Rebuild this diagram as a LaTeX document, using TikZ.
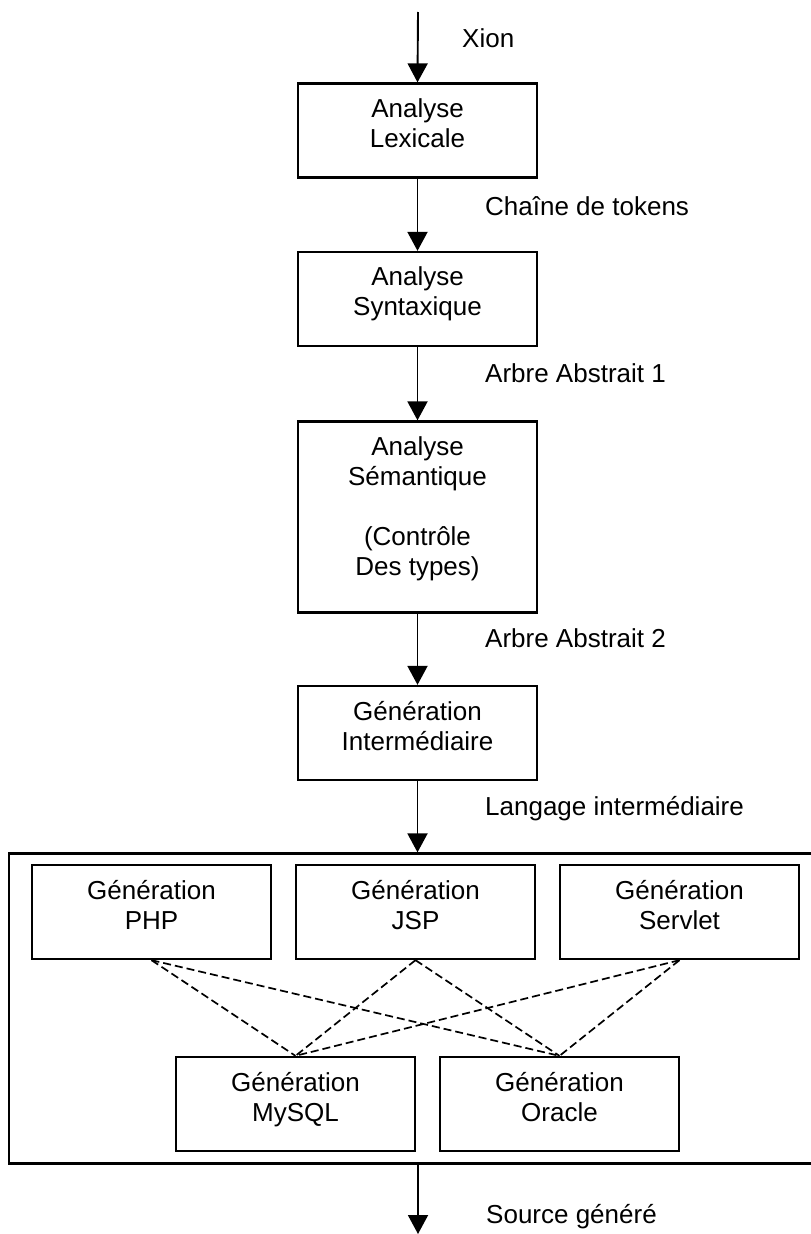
\documentclass[tikz,border=0pt]{standalone}
\usepackage{fontspec}
\setmainfont{Liberation Sans}
\usetikzlibrary{arrows.meta,calc}
\begin{document}
\begin{tikzpicture}[x=1pt,y=-1pt,
  stage/.style={draw, line width=2.3pt, minimum width=239pt, minimum height=94pt, inner sep=0pt},
  gen/.style={stage},
  frame/.style={draw, line width=2.3pt, inner sep=0pt},
  boxtext/.style={align=center, inner sep=0pt, anchor=north, font=\fontsize{26}{30}\selectfont},
  lbl/.style={anchor=base west, inner sep=0pt, font=\fontsize{26}{30}\selectfont},
  flow/.style={line width=1.9pt, -{Triangle[width=20pt,length=19pt]}},
  link/.style={line width=1.7pt, dash pattern=on 8pt off 4pt}]

\useasboundingbox (0,0) rectangle (811,1234);
\clip (0,0) rectangle (811,1234);

% main pipeline
\node[stage] (lex) at (417.5,130.5) {};
\node[stage] (syn) at (417.5,299) {};
\node[stage, minimum height=191pt] (sem) at (417.5,517) {};
\node[stage] (inter) at (417.5,733) {};

\node[boxtext] (lext) at ($(lex.north)+(0,16)$) {Analyse\\Lexicale};
\node[boxtext] (synt) at ($(syn.north)+(0,16)$) {Analyse\\Syntaxique};
\node[boxtext] (semt) at ($(sem.north)+(0,16)$) {Analyse\\Sémantique\\[30pt](Contrôle\\Des types)};
\node[boxtext] (intert) at ($(inter.north)+(0,16)$) {Génération\\Intermédiaire};

% back-end generators
\node[frame, minimum width=806pt, minimum height=310pt] (back) at (412,1008.5) {};
\node[gen] (php) at (151.5,912) {};
\node[gen] (jsp) at (415.5,912) {};
\node[gen] (servlet) at (679.5,912) {};
\node[gen] (mysql) at (295.5,1104) {};
\node[gen] (oracle) at (559.5,1104) {};

\node[boxtext] (phpt) at ($(php.north)+(0,16)$) {Génération\\PHP};
\node[boxtext] (jspt) at ($(jsp.north)+(0,16)$) {Génération\\JSP};
\node[boxtext] (servlett) at ($(servlet.north)+(0,16)$) {Génération\\Servlet};
\node[boxtext] (mysqlt) at ($(mysql.north)+(0,16)$) {Génération\\MySQL};
\node[boxtext] (oraclet) at ($(oracle.north)+(0,16)$) {Génération\\Oracle};

% flow arrows
\coordinate (in) at (418,12);
\coordinate (out) at (418,1234);
\draw[flow] (in) -- (lex.north);
\draw[flow] (lex.south) -- (syn.north);
\draw[flow] (syn.south) -- (sem.north);
\draw[flow] (sem.south) -- (inter.north);
\draw[flow] (inter.south) -- (inter.south |- back.north);
\draw[flow] (out |- back.south) -- (out);

% arrow labels
\node[lbl] (l0) at (462,47) {Xion};
\node[lbl] (l1) at (485,215) {Chaîne de tokens};
\node[lbl] (l2) at (485,382) {Arbre Abstrait 1};
\node[lbl] (l3) at (485,647) {Arbre Abstrait 2};
\node[lbl] (l4) at (485,815) {Langage intermédiaire};
\node[lbl] (l5) at (486,1223) {Source généré};

% dashed links between generators
\foreach \a in {php,jsp,servlet}
  \foreach \b in {mysql,oracle}
    \draw[link] (\a.south) -- (\b.north);
\end{tikzpicture}
\end{document}
